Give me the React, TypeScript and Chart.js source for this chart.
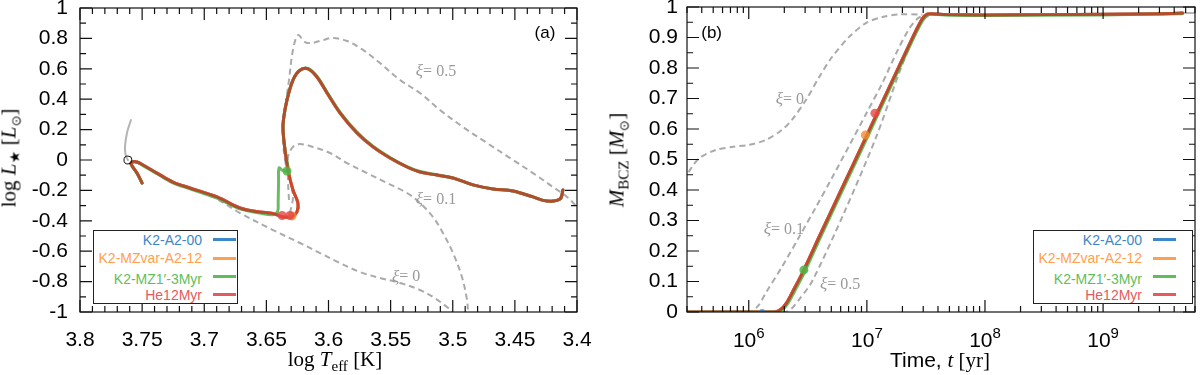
import React, { useEffect, useRef } from 'react';
import { Chart, registerables } from 'chart.js';

Chart.register(...registerables);

// ---------------- series meta ----------------
const seriesNames = ['K2-A2-00', 'K2-MZvar-A2-12', 'K2-MZ1\u2032-3Myr', 'He12Myr'];
const seriesTextColors = ['#3b87c7', '#ffa04f', '#5fbe5c', '#e35a60'];
const seriesLineColors = [
  'rgba(40,118,190,0.85)',
  'rgba(255,146,50,0.85)',
  'rgba(78,178,72,0.85)',
  'rgba(205,42,32,0.72)',
];
const greyDash = '#aaaaaa';
const greySolid = '#b4b4b4';

// ---------------- Panel (a): HR diagram  [log Teff, log L] ----------------
const hrTrackMain: [number, number][] = [
  [3.4113, -0.197], [3.4137, -0.257], [3.4242, -0.27], [3.4354, -0.243], [3.4515, -0.204],
  [3.4676, -0.191], [3.4837, -0.164], [3.4998, -0.118], [3.5127, -0.099], [3.5264, -0.079],
  [3.5368, -0.046], [3.5505, 0.013], [3.5642, 0.086], [3.5771, 0.178], [3.5907, 0.309],
  [3.6012, 0.441], [3.6093, 0.546], [3.6165, 0.6], [3.623, 0.59], [3.6286, 0.526],
  [3.6334, 0.395], [3.6362, 0.27], [3.6366, 0.197], [3.635, 0.066], [3.6326, -0.066],
  [3.6286, -0.197], [3.6246, -0.283], [3.6254, -0.342], [3.6294, -0.372], [3.6366, -0.375],
  [3.6447, -0.352], [3.6551, -0.342], [3.6712, -0.316], [3.6897, -0.243], [3.7115, -0.184],
  [3.7252, -0.145], [3.738, -0.086], [3.7493, -0.033], [3.7541, -0.013], [3.7582, -0.013],
  [3.759, -0.026], [3.7541, -0.086], [3.75, -0.151],
];
const hrTrackMZ1: [number, number][] = [
  [3.4113, -0.197], [3.4137, -0.257], [3.4242, -0.27], [3.4354, -0.243], [3.4515, -0.204],
  [3.4676, -0.191], [3.4837, -0.164], [3.4998, -0.118], [3.5127, -0.097], [3.5264, -0.076],
  [3.5368, -0.043], [3.5505, 0.017], [3.5642, 0.091], [3.5771, 0.184], [3.5907, 0.315],
  [3.6012, 0.447], [3.6093, 0.551], [3.6165, 0.603], [3.623, 0.59], [3.6286, 0.526],
  [3.6334, 0.395], [3.6362, 0.27], [3.6366, 0.197], [3.635, 0.066], [3.6326, -0.07],
  [3.637, -0.068], [3.6398, -0.052], [3.6402, -0.15], [3.6405, -0.27], [3.641, -0.34],
  [3.645, -0.36], [3.6551, -0.349], [3.6712, -0.322], [3.6897, -0.25], [3.7115, -0.19],
  [3.7252, -0.15], [3.738, -0.09], [3.7493, -0.037], [3.7541, -0.016], [3.7582, -0.015],
  [3.759, -0.028], [3.7541, -0.088], [3.75, -0.153],
];
const hrXi05: [number, number][] = [
  [3.631, -0.349], [3.6286, -0.243], [3.631, -0.132], [3.635, 0.0], [3.6366, 0.151],
  [3.635, 0.329], [3.6318, 0.526], [3.6286, 0.724], [3.6245, 0.822], [3.6189, 0.776],
  [3.6133, 0.77], [3.6044, 0.789], [3.5964, 0.803], [3.5851, 0.783], [3.5722, 0.724],
  [3.5586, 0.638], [3.5424, 0.526], [3.5264, 0.441], [3.5103, 0.329], [3.4918, 0.217],
  [3.4724, 0.112], [3.4515, 0.0], [3.4354, -0.086], [3.4193, -0.178], [3.408, -0.243],
  [3.4, -0.309], [3.392, -0.38],
];
const hrXi01: [number, number][] = [
  [3.6318, -0.263], [3.6326, -0.132], [3.6326, 0.02], [3.6286, 0.086], [3.623, 0.105],
  [3.6125, 0.086], [3.5988, 0.046], [3.5851, -0.02], [3.569, -0.086], [3.5529, -0.151],
  [3.5368, -0.217], [3.5264, -0.283], [3.5159, -0.375], [3.5079, -0.48], [3.4998, -0.612],
  [3.4926, -0.77], [3.4885, -0.921], [3.4877, -1.0], [3.4869, -1.06],
];
const hrXi0: [number, number][] = [
  [3.7034, -0.21], [3.6897, -0.257], [3.6712, -0.349], [3.6447, -0.461], [3.623, -0.546],
  [3.6068, -0.612], [3.5907, -0.678], [3.5746, -0.737], [3.5586, -0.776], [3.5424, -0.809],
  [3.5264, -0.855], [3.5159, -0.901], [3.5046, -0.967], [3.5006, -1.0], [3.4974, -1.04],
];
const hrPostMS: [number, number][] = [
  [3.7614, 0.0], [3.7632, 0.03], [3.7638, 0.086], [3.7622, 0.178], [3.759, 0.263],
];
const hrSun: [number, number][] = [[3.7614, 0.0]];
const hrMarkRed: [number, number][] = [[3.6374, -0.365], [3.631, -0.365]];
const hrMarkOrange: [number, number][] = [[3.6294, -0.368]];
const hrMarkGreen: [number, number][] = [[3.6334, -0.072]];

const hrXTicks = [3.8, 3.75, 3.7, 3.65, 3.6, 3.55, 3.5, 3.45, 3.4];
const hrXTickLabels = ['3.8', '3.75', '3.7', '3.65', '3.6', '3.55', '3.5', '3.45', '3.4'];
const hrYTicks = [1, 0.8, 0.6, 0.4, 0.2, 0, -0.2, -0.4, -0.6, -0.8, -1];
const hrYTickLabels = ['1', '0.8', '0.6', '0.4', '0.2', '0', '-0.2', '-0.4', '-0.6', '-0.8', '-1'];

// ---------------- Panel (b): M_BCZ vs time  [t (yr), M] ----------------
const bczMain: [number, number][] = [
  [3e5, 0], [1e6, 0], [1.66e6, 0], [1.86e6, 0.008], [2.09e6, 0.03], [2.34e6, 0.065],
  [2.82e6, 0.125], [3.98e6, 0.25], [6.31e6, 0.415], [1e7, 0.58], [1.58e7, 0.745],
  [2.51e7, 0.91], [2.95e7, 0.962], [3.24e7, 0.977], [3.55e7, 0.978], [5e7, 0.975],
  [1e8, 0.974], [3.16e8, 0.975], [1e9, 0.976], [3.16e9, 0.978], [4.7e9, 0.98],
];
const bczMZ1: [number, number][] = [
  [3e5, 0], [1e6, 0], [1.72e6, 0], [1.93e6, 0.008], [2.16e6, 0.03], [2.42e6, 0.065],
  [2.92e6, 0.125], [4.1e6, 0.25], [6.5e6, 0.415], [1.03e7, 0.58], [1.62e7, 0.745],
  [2.57e7, 0.91], [3.02e7, 0.96], [3.32e7, 0.975], [3.7e7, 0.976], [5e7, 0.973],
  [1e8, 0.972], [1e9, 0.974], [4.7e9, 0.978],
];
const bczXi0: [number, number][] = [
  [2.6e5, 0.4], [3e5, 0.45], [3.76e5, 0.502], [5.25e5, 0.531], [7.18e5, 0.541],
  [1e6, 0.548], [1.39e6, 0.564], [1.91e6, 0.597], [2.32e6, 0.63], [3.05e6, 0.695],
  [3.94e6, 0.77], [5.07e6, 0.836], [7.08e6, 0.902], [9.86e6, 0.948], [1.35e7, 0.967],
  [1.88e7, 0.976], [2.95e7, 0.975],
];
const bczXi01: [number, number][] = [
  [3e5, 0], [1e6, 0], [1.2e6, 0.02], [1.39e6, 0.062], [1.91e6, 0.148], [2.66e6, 0.245],
  [3.72e6, 0.345], [5.07e6, 0.44], [7.08e6, 0.545], [9.86e6, 0.65], [1.35e7, 0.75],
  [1.78e7, 0.85], [2.29e7, 0.93], [2.75e7, 0.965], [3.31e7, 0.976],
];
const bczXi05: [number, number][] = [
  [1.58e6, 0], [2.04e6, 0], [2.29e6, 0.01], [2.66e6, 0.04], [3.43e6, 0.1], [6.41e6, 0.325],
  [1.2e7, 0.574], [1.88e7, 0.785], [2.51e7, 0.905], [2.95e7, 0.955], [3.39e7, 0.975],
];
const bczPostMS: [number, number][] = [[4.7e9, 0.98], [7e9, 0.98]];
const bczMarkBlue: [number, number][] = [[1.3e6, 0]];
const bczMarkGreen: [number, number][] = [[2.93e6, 0.138]];
const bczMarkOrange: [number, number][] = [[9.7e6, 0.58]];
const bczMarkRed: [number, number][] = [[1.17e7, 0.652]];

const bczXTicks = [1e6, 1e7, 1e8, 1e9];
const bczXTickExps = ['6', '7', '8', '9'];
const bczYTicks = [0, 0.1, 0.2, 0.3, 0.4, 0.5, 0.6, 0.7, 0.8, 0.9, 1];
const bczYTickLabels = ['0', '0.1', '0.2', '0.3', '0.4', '0.5', '0.6', '0.7', '0.8', '0.9', '1'];

// ---------------- annotations ----------------
const SANS = '"Liberation Sans", Arial, Helvetica, sans-serif';
const SERIF = '"Liberation Serif", "Times New Roman", serif';

const hrNotes = [
  { x: 3.5135, y: 0.579, parts: ['\u03be', '= 0.5'] },
  { x: 3.5135, y: -0.263, parts: ['\u03be', '= 0.1'] },
  { x: 3.5376, y: -0.77, parts: ['\u03be', '= 0'] },
];
const bczNotes = [
  { x: 2.23e6, y: 0.695, parts: ['\u03be', '= 0'] },
  { x: 1.98e6, y: 0.269, parts: ['\u03be', '= 0.1'] },
  { x: 5.93e6, y: 0.089, parts: ['\u03be', '= 0.5'] },
];

// ---------------- helpers ----------------
const pts = (a: [number, number][]) => a.map(([x, y]) => ({ x, y }));

function lineDs(data: [number, number][], color: string, width: number, dash: number[] = [], tension = 0.35) {
  return {
    data: pts(data),
    showLine: true,
    borderColor: color,
    backgroundColor: color,
    borderWidth: width,
    borderDash: dash,
    borderCapStyle: dash.length ? 'butt' : 'round',
    borderJoinStyle: 'round',
    pointRadius: 0,
    pointHoverRadius: 0,
    tension,
    fill: false,
  };
}
function markDs(data: [number, number][], color: string, r: number, stroke?: string) {
  return {
    data: pts(data),
    showLine: false,
    pointRadius: r,
    pointHoverRadius: r,
    backgroundColor: stroke ? 'rgba(0,0,0,0)' : color,
    borderColor: stroke || color,
    borderWidth: stroke ? 1 : 0,
  };
}

function minorLinear(lo: number, hi: number, step: number, skipEvery: number) {
  const out: number[] = [];
  const n = Math.round((hi - lo) / step);
  for (let i = 0; i <= n; i++) if (i % skipEvery !== 0) out.push(lo + i * step);
  return out;
}
function minorLog(dLo: number, dHi: number) {
  const out: number[] = [];
  for (let d = dLo; d <= dHi; d++) for (let m = 2; m <= 9; m++) out.push(m * Math.pow(10, d));
  return out;
}

function decorPlugin(cfg: any) {
  return {
    id: 'decor',
    afterDatasetsDraw(chart: any) {
      const ctx = chart.ctx;
      const a = chart.chartArea;
      const xs = chart.scales.x;
      const ys = chart.scales.y;
      ctx.save();
      ctx.strokeStyle = '#111';
      ctx.lineWidth = 1.2;
      ctx.beginPath();
      const vx = (v: number, len: number) => {
        const p = xs.getPixelForValue(v);
        if (p < a.left - 0.5 || p > a.right + 0.5) return;
        ctx.moveTo(p, a.bottom);
        ctx.lineTo(p, a.bottom - len);
        ctx.moveTo(p, a.top);
        ctx.lineTo(p, a.top + len);
      };
      const hy = (v: number, len: number) => {
        const p = ys.getPixelForValue(v);
        if (p < a.top - 0.5 || p > a.bottom + 0.5) return;
        ctx.moveTo(a.left, p);
        ctx.lineTo(a.left + len, p);
        ctx.moveTo(a.right, p);
        ctx.lineTo(a.right - len, p);
      };
      cfg.xMajor.forEach((v: number) => vx(v, 12));
      cfg.xMinor.forEach((v: number) => vx(v, 6));
      cfg.yMajor.forEach((v: number) => hy(v, 12));
      cfg.yMinor.forEach((v: number) => hy(v, 6));
      ctx.stroke();
      ctx.strokeRect(a.left, a.top, a.right - a.left, a.bottom - a.top);

      // curve notes
      ctx.textBaseline = 'middle';
      ctx.textAlign = 'left';
      ctx.fillStyle = '#999';
      for (const n of cfg.notes) {
        const px = xs.getPixelForValue(n.x);
        const py = ys.getPixelForValue(n.y);
        const fonts = ['italic 17px ' + SERIF, '16px ' + SERIF];
        const w = n.parts.map((t: string, i: number) => {
          ctx.font = fonts[i];
          return ctx.measureText(t).width;
        });
        let cx = px - (w[0] + w[1]) / 2;
        n.parts.forEach((t: string, i: number) => {
          ctx.font = fonts[i];
          ctx.fillText(t, cx, py);
          cx += w[i];
        });
      }
      // panel tag
      ctx.fillStyle = '#000';
      ctx.font = '17px ' + SANS;
      ctx.textAlign = 'center';
      ctx.fillText(cfg.tag.text, xs.getPixelForValue(cfg.tag.x), ys.getPixelForValue(cfg.tag.y));

      // power-of-ten tick labels
      if (cfg.supTicks) {
        ctx.textBaseline = 'alphabetic';
        ctx.textAlign = 'left';
        const base = a.bottom + 35;
        cfg.supTicks.values.forEach((v: number, i: number) => {
          const px = xs.getPixelForValue(v);
          ctx.font = '21px ' + SANS;
          const w1 = ctx.measureText('10').width;
          ctx.font = '15px ' + SANS;
          const e = cfg.supTicks.exps[i];
          const w2 = ctx.measureText(e).width;
          const sx = px - (w1 + w2) / 2;
          ctx.font = '21px ' + SANS;
          ctx.fillText('10', sx, base);
          ctx.font = '15px ' + SANS;
          ctx.fillText(e, sx + w1, base - 9);
        });
      }
      ctx.restore();
    },
  };
}

function fixScale(h?: number, w?: number) {
  return (s: any) => {
    if (h !== undefined) s.height = h;
    if (w !== undefined) s.width = w;
    s.paddingLeft = 0;
    s.paddingRight = 0;
    s.paddingTop = 0;
    s.paddingBottom = 0;
  };
}
const pickLabel = (vals: number[], labels: string[]) => (v: any) => {
  const i = vals.findIndex((t) => Math.abs(t - Number(v)) < 1e-9);
  return i >= 0 ? labels[i] : '';
};

function configA(): any {
  return {
    type: 'scatter',
    data: {
      datasets: [
        markDs(hrSun, '#000', 4, '#111'),
        markDs(hrMarkRed, 'rgba(230,70,70,0.8)', 4.5),
        markDs(hrMarkOrange, 'rgba(240,140,50,0.8)', 4.5),
        markDs(hrMarkGreen, 'rgba(80,180,70,0.85)', 4.5),
        lineDs(hrTrackMain, seriesLineColors[3], 3),
        lineDs(hrTrackMZ1, seriesLineColors[2], 3),
        lineDs(hrTrackMain, seriesLineColors[1], 3),
        lineDs(hrTrackMain, seriesLineColors[0], 3),
        lineDs(hrPostMS, greySolid, 2),
        lineDs(hrXi05, greyDash, 2, [6, 4]),
        lineDs(hrXi01, greyDash, 2, [6, 4]),
        lineDs(hrXi0, greyDash, 2, [6, 4]),
      ],
    },
    options: {
      animation: false,
      responsive: false,
      devicePixelRatio: 1,
      layout: { padding: { left: 0, right: 23, top: 8, bottom: 0 } },
      plugins: { legend: { display: false }, tooltip: { enabled: false } },
      events: [],
      scales: {
        x: {
          type: 'linear',
          reverse: true,
          min: 3.4,
          max: 3.8,
          afterBuildTicks: (s: any) => {
            s.ticks = hrXTicks.map((v) => ({ value: v }));
          },
          ticks: {
            callback: pickLabel(hrXTicks, hrXTickLabels),
            font: { size: 21, family: SANS },
            color: '#000',
            padding: 16,
            maxRotation: 0,
            autoSkip: false,
          },
          grid: { display: false, drawTicks: false },
          border: { display: false },
          afterFit: fixScale(63, undefined),
        },
        y: {
          type: 'linear',
          min: -1,
          max: 1,
          afterBuildTicks: (s: any) => {
            s.ticks = hrYTicks.map((v) => ({ value: v }));
          },
          ticks: {
            callback: pickLabel(hrYTicks, hrYTickLabels),
            font: { size: 21, family: SANS },
            color: '#000',
            padding: 12,
            autoSkip: false,
          },
          grid: { display: false, drawTicks: false },
          border: { display: false },
          afterFit: fixScale(undefined, 80),
        },
      },
    },
    plugins: [
      decorPlugin({
        xMajor: hrXTicks,
        xMinor: minorLinear(3.4, 3.8, 0.01, 5),
        yMajor: hrYTicks,
        yMinor: minorLinear(-1, 1, 0.1, 2),
        notes: hrNotes,
        tag: { text: '(a)', x: 3.4258, y: 0.836 },
      }),
    ],
  };
}

function configB(): any {
  return {
    type: 'scatter',
    data: {
      datasets: [
        markDs(bczMarkRed, 'rgba(230,70,70,0.8)', 4.5),
        markDs(bczMarkOrange, 'rgba(240,140,50,0.8)', 4.5),
        markDs(bczMarkGreen, 'rgba(80,180,70,0.85)', 4.5),
        markDs(bczMarkBlue, 'rgba(60,130,200,0.8)', 3),
        lineDs(bczMain, seriesLineColors[3], 3, [], 0.2),
        lineDs(bczMZ1, seriesLineColors[2], 3, [], 0.2),
        lineDs(bczMain, seriesLineColors[1], 3, [], 0.2),
        lineDs(bczMain, seriesLineColors[0], 3, [], 0.2),
        lineDs(bczPostMS, greySolid, 2),
        lineDs(bczXi0, greyDash, 2, [6, 4], 0.3),
        lineDs(bczXi01, greyDash, 2, [6, 4], 0.3),
        lineDs(bczXi05, greyDash, 2, [6, 4], 0.3),
      ],
    },
    options: {
      animation: false,
      responsive: false,
      devicePixelRatio: 1,
      layout: { padding: { left: 0, right: 5, top: 7, bottom: 0 } },
      plugins: { legend: { display: false }, tooltip: { enabled: false } },
      events: [],
      scales: {
        x: {
          type: 'logarithmic',
          min: 3e5,
          max: 6e9,
          ticks: { display: false },
          grid: { display: false, drawTicks: false },
          border: { display: false },
          afterFit: fixScale(63, undefined),
        },
        y: {
          type: 'linear',
          min: 0,
          max: 1,
          afterBuildTicks: (s: any) => {
            s.ticks = bczYTicks.map((v) => ({ value: v }));
          },
          ticks: {
            callback: pickLabel(bczYTicks, bczYTickLabels),
            font: { size: 21, family: SANS },
            color: '#000',
            padding: 9,
            autoSkip: false,
          },
          grid: { display: false, drawTicks: false },
          border: { display: false },
          afterFit: fixScale(undefined, 87),
        },
      },
    },
    plugins: [
      decorPlugin({
        xMajor: bczXTicks,
        xMinor: minorLog(5, 9),
        yMajor: bczYTicks,
        yMinor: minorLinear(0, 1, 0.05, 2),
        notes: bczNotes,
        tag: { text: '(b)', x: 4.85e5, y: 0.915 },
        supTicks: { values: bczXTicks, exps: bczXTickExps },
      }),
    ],
  };
}

function ChartCanvas({ make, left }: { make: () => any; left: number }) {
  const ref = useRef<HTMLCanvasElement>(null);
  useEffect(() => {
    const chart = new Chart(ref.current as HTMLCanvasElement, make());
    return () => chart.destroy();
  }, []);
  return (
    <canvas
      ref={ref}
      width={600}
      height={375}
      style={{ position: 'absolute', left, top: 0, width: 600, height: 375 }}
    />
  );
}

function LegendBox({ left, width }: { left: number; width: number }) {
  const rows = [9.5, 28, 46, 64.5];
  return (
    <div
      style={{
        position: 'absolute',
        left,
        top: 230,
        width,
        height: 74,
        border: '1px solid #222',
        background: '#fff',
        boxSizing: 'border-box',
      }}
    >
      {seriesNames.map((name, i) => (
        <React.Fragment key={name}>
          <div
            style={{
              position: 'absolute',
              right: width - 110,
              top: rows[i] - 8 + (i === 2 ? 2.5 : 0),
              font: '14px ' + SANS,
              lineHeight: '14px',
              color: seriesTextColors[i],
              whiteSpace: 'nowrap',
            }}
          >
            {name}
          </div>
          <div
            style={{
              position: 'absolute',
              left: 119,
              width: 23,
              top: rows[i] - 2.5,
              height: 3,
              background: seriesTextColors[i],
            }}
          />
        </React.Fragment>
      ))}
    </div>
  );
}

const titleSerif: React.CSSProperties = {
  position: 'absolute',
  font: '21px ' + SERIF,
  lineHeight: '21px',
  whiteSpace: 'nowrap',
  color: '#000',
};
const sub = (size: number, dy: number): React.CSSProperties => ({
  fontSize: size,
  position: 'relative',
  top: dy,
});

export default function App() {
  return (
    <div
      style={{
        position: 'absolute',
        left: 0,
        top: 0,
        width: 1200,
        height: 375,
        background: '#fff',
        overflow: 'hidden',
      }}
    >
      <ChartCanvas make={configA} left={0} />
      <ChartCanvas make={configB} left={600} />

      {/* x titles */}
      <div style={{ ...titleSerif, left: 235, width: 200, top: 349, textAlign: 'center' }}>
        log <i>T</i>
        <span style={sub(15, 5)}>eff</span> [K]
      </div>
      <div style={{ ...titleSerif, left: 840, width: 200, top: 349, textAlign: 'center' }}>
        <span style={{ fontFamily: SANS }}>Time, </span>
        <i>t</i> [yr]
      </div>

      {/* y titles */}
      <div
        style={{
          ...titleSerif,
          left: 10,
          top: 158,
          transform: 'translate(-50%, -50%) rotate(-90deg)',
        }}
      >
        log <i>L</i>
        <span style={sub(14, 4)}>{'\u2605'}</span> [<i>L</i>
        <span style={sub(13, 5)}>{'\u2299'}</span>]
      </div>
      <div
        style={{
          ...titleSerif,
          left: 618,
          top: 160,
          transform: 'translate(-50%, -50%) rotate(-90deg)',
        }}
      >
        <i>M</i>
        <span style={sub(15, 5)}>BCZ</span> [<i>M</i>
        <span style={sub(13, 5)}>{'\u2299'}</span>]
      </div>

      <LegendBox left={93} width={145} />
      <LegendBox left={1033} width={160} />
    </div>
  );
}
